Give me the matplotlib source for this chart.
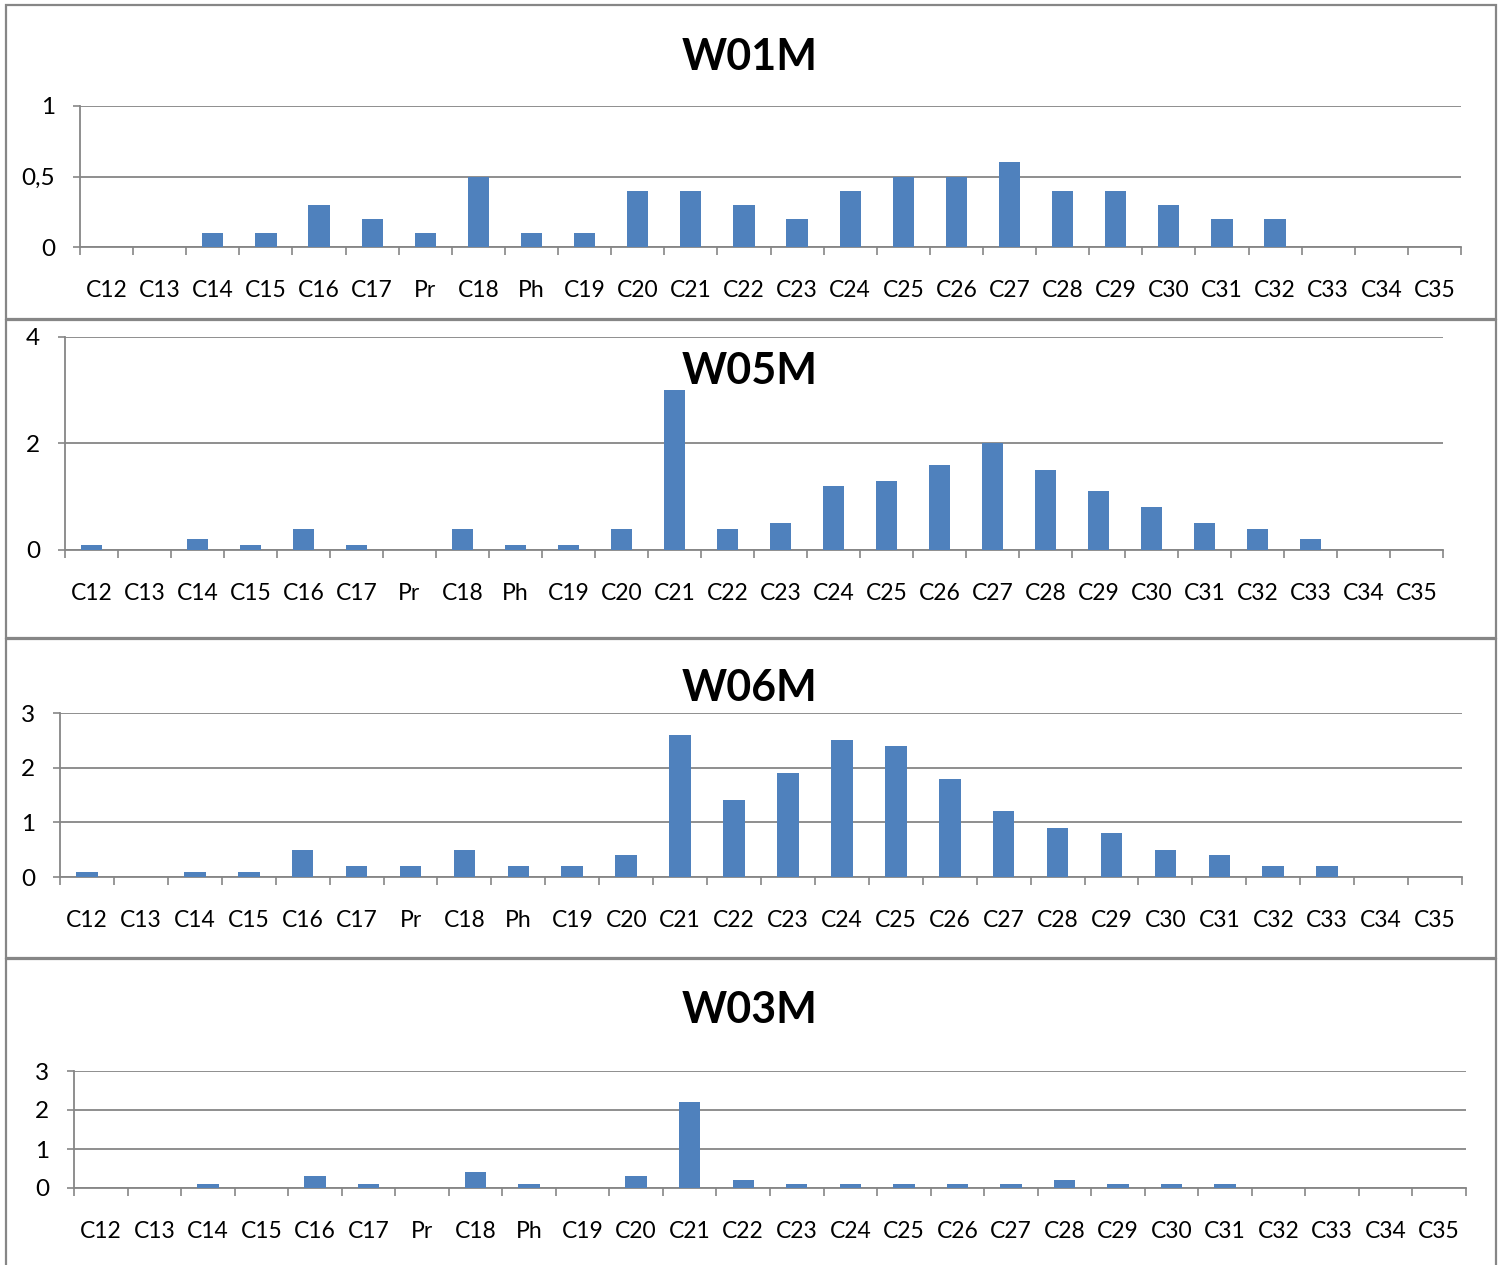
import matplotlib
matplotlib.use("Agg")
import matplotlib.pyplot as plt
from matplotlib.patches import Rectangle
import numpy as np

plt.rcParams['font.family'] = ['Lato', 'DejaVu Sans']

categories = ["C12", "C13", "C14", "C15", "C16", "C17", "Pr", "C18", "Ph", "C19",
              "C20", "C21", "C22", "C23", "C24", "C25", "C26", "C27", "C28", "C29",
              "C30", "C31", "C32", "C33", "C34", "C35"]

w01m = [0, 0, 0.1, 0.1, 0.3, 0.2, 0.1, 0.5, 0.1, 0.1,
        0.4, 0.4, 0.3, 0.2, 0.4, 0.5, 0.5, 0.6, 0.4, 0.4,
        0.3, 0.2, 0.2, 0, 0, 0]
w05m = [0.1, 0, 0.2, 0.1, 0.4, 0.1, 0, 0.4, 0.1, 0.1,
        0.4, 3.0, 0.4, 0.5, 1.2, 1.3, 1.6, 2.0, 1.5, 1.1,
        0.8, 0.5, 0.4, 0.2, 0, 0]
w06m = [0.1, 0, 0.1, 0.1, 0.5, 0.2, 0.2, 0.5, 0.2, 0.2,
        0.4, 2.6, 1.4, 1.9, 2.5, 2.4, 1.8, 1.2, 0.9, 0.8,
        0.5, 0.4, 0.2, 0.2, 0, 0]
w03m = [0, 0, 0.1, 0, 0.3, 0.1, 0, 0.4, 0.1, 0,
        0.3, 2.2, 0.2, 0.1, 0.1, 0.1, 0.1, 0.1, 0.2, 0.1,
        0.1, 0.1, 0, 0, 0, 0]

titles = ["W01M", "W05M", "W06M", "W03M"]
series = [w01m, w05m, w06m, w03m]
yticks = [[0, 0.5, 1], [0, 2, 4], [0, 1, 2, 3], [0, 1, 2, 3]]
yticklabels = [["0", "0,5", "1"], ["0", "2", "4"], ["0", "1", "2", "3"], ["0", "1", "2", "3"]]

W, H = 1498, 1265
fig = plt.figure(figsize=(W / 100, H / 100), dpi=100)

# axes boxes in pixels: left, right, top, bottom
boxes = [(80, 1461, 106, 247), (65, 1443, 337, 550), (60, 1462, 713, 877), (74, 1466, 1071, 1188)]
title_y = [57, 371, 688, 1010]
panels = [(6, 5, 1496, 319), (6, 320, 1496, 638), (6, 639, 1496, 958), (6, 959, 1496, 1275)]

GRAY = "#868686"
BLUE = "#4F81BD"

for (x0, y0, x1, y1) in panels:
    fig.add_artist(Rectangle((x0 / W, 1 - y1 / H), (x1 - x0) / W, (y1 - y0) / H,
                             transform=fig.transFigure, fill=False, edgecolor=GRAY, lw=1.6))

x = np.arange(len(categories))
for i, (vals, title) in enumerate(zip(series, titles)):
    l, r, t, b = boxes[i]
    ax = fig.add_axes([l / W, 1 - b / H, (r - l) / W, (b - t) / H])
    ax.set_facecolor("none")
    ax.bar(x, vals, width=0.4, color=BLUE, zorder=3)
    ax.set_xlim(-0.5, len(categories) - 0.5)
    ax.set_ylim(yticks[i][0], yticks[i][-1])
    ax.set_yticks(yticks[i])
    ax.set_yticklabels(yticklabels[i], fontsize=17.5)
    ax.set_xticks(x)
    ax.set_xticklabels(categories, fontsize=16.5)
    ax.set_xticks(np.arange(-0.5, len(categories), 1.0), minor=True)
    ax.tick_params(axis='x', which='major', length=0, pad=24)
    ax.tick_params(axis='x', which='minor', length=6, width=1.2, color=GRAY, direction='out')
    ax.tick_params(axis='y', which='major', length=5, width=1.2, color=GRAY, pad=13)
    ax.yaxis.grid(True, color=GRAY, lw=1.3, zorder=0)
    for s in ['top', 'right']:
        ax.spines[s].set_visible(False)
    for s in ['left', 'bottom']:
        ax.spines[s].set_color(GRAY)
        ax.spines[s].set_linewidth(1.3)
    fig.text(750 / W, 1 - title_y[i] / H, title, ha='center', va='center',
             fontsize=31, fontweight='bold')

fig.savefig("out.png", dpi=100, facecolor="white")
